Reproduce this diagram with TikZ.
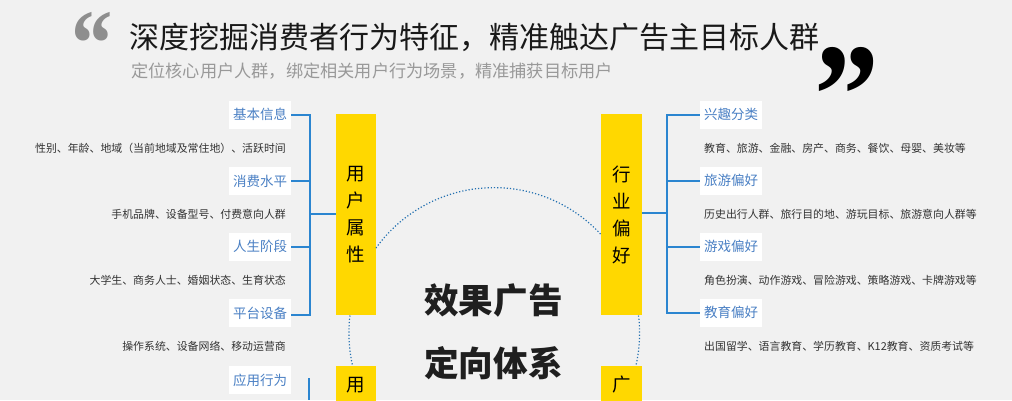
\documentclass[tikz,border=0pt]{standalone}
\usepackage{xcolor}
\usepackage{fontspec}
\usepackage{tikz}
\setmainfont{Liberation Serif}
\newfontfamily\cjk{Noto Sans CJK SC}
\definecolor{bgray}{HTML}{F1F1F1}
\definecolor{barYellow}{HTML}{FFD800}
\definecolor{lineBlue}{HTML}{2B85D0}
\definecolor{labelBlue}{HTML}{4A80C4}
\definecolor{detailGray}{HTML}{333333}
\definecolor{subGray}{HTML}{999999}
\definecolor{quoteGray}{HTML}{8E8E8E}
\tikzset{
  labelbox/.style={fill=white, text=labelBlue, font=\cjk\fontsize{13.5}{14}\selectfont, inner sep=0, minimum width=62, minimum height=28},
  detailtext/.style={text=detailGray, font=\cjk\fontsize{10.9}{12}\selectfont, inner sep=0},
  barbox/.style={fill=barYellow, text=black, font=\cjk\fontsize{18.5}{27}\selectfont, inner sep=0, minimum width=40.5, align=center},
  centertext/.style={text=black!88, font=\cjk\bfseries\fontsize{34.6}{36}\selectfont, inner sep=0},
  treeline/.style={lineBlue, line width=2},
  dotarc/.style={lineBlue!85!black, line width=1.2, dotted},
}

\begin{document}
\begin{tikzpicture}[x=1pt,y=-1pt]
\path[use as bounding box, clip] (0,0) rectangle (1012,400);
\fill[bgray] (0,0) rectangle (1012,400);

% heading
\node[text=black!90, font=\cjk\fontsize{30}{32}\selectfont, inner sep=0, anchor=west] (title) at (129,37) {深度挖掘消费者行为特征，精准触达广告主目标人群};
\node[text=subGray, font=\cjk\fontsize{17.2}{19}\selectfont, inner sep=0, anchor=west] (subtitle) at (131,71) {定位核心用户人群，绑定相关用户行为场景，精准捕获目标用户};
\node[text=quoteGray, font=\bfseries\fontsize{95}{95}\selectfont, inner sep=0, xscale=.87] (openquote) at (92,75.5) {\smash{“}};
\node[text=black, font=\bfseries\fontsize{146}{146}\selectfont, inner sep=0, xscale=.89] (closequote) at (846.5,144) {\smash{”}};

% bars
\node[barbox, minimum height=201] (yhsx) at (356,214.5) {用\\户\\属\\性};
\node[barbox, minimum height=201] (hyph) at (621.5,214.5) {行\\业\\偏\\好};
\node[barbox, minimum height=38] (yhbot) at (356,385) {用};
\node[barbox, minimum height=38] (ggbot) at (621.5,385) {广};

% center
\node[centertext] (xgtitle) at (493.5,301) {效果广告};
\node[centertext] (dxtitle) at (493.5,363) {定向体系};

% left labels
\node[labelbox] (jbxx) at (260,114.7) {基本信息};
\node[labelbox] (xfsp) at (260,181) {消费水平};
\node[labelbox] (rsjd) at (260,246.7) {人生阶段};
\node[labelbox] (ptsb) at (260,313) {平台设备};
\node[labelbox] (yyxw) at (260,380) {应用行为};
\node[detailtext, anchor=east] (jbxxtext) at (286,148) {性别、年龄、地域（当前地域及常住地）、活跃时间};
\node[detailtext, anchor=east] (xfsptext) at (286,214) {手机品牌、设备型号、付费意向人群};
\node[detailtext, anchor=east] (rsjdtext) at (286,280) {大学生、商务人士、婚姻状态、生育状态};
\node[detailtext, anchor=east] (ptsbtext) at (286,346) {操作系统、设备网络、移动运营商};

% right labels
\node[labelbox] (xqfl) at (731,114.5) {兴趣分类};
\node[labelbox] (lyph) at (731,180.5) {旅游偏好};
\node[labelbox] (yxph) at (731,246.5) {游戏偏好};
\node[labelbox] (jyph) at (731,312.7) {教育偏好};
\node[detailtext, anchor=west] (xqfltext) at (704,148) {教育、旅游、金融、房产、商务、餐饮、母婴、美妆等};
\node[detailtext, anchor=west] (lyphtext) at (704,214) {历史出行人群、旅行目的地、游玩目标、旅游意向人群等};
\node[detailtext, anchor=west] (yxphtext) at (704,280) {角色扮演、动作游戏、冒险游戏、策略游戏、卡牌游戏等};
\node[detailtext, anchor=west] (jyphtext) at (704,346) {出国留学、语言教育、学历教育、K12教育、资质考试等};

% left tree
\coordinate (ltrunk) at (309.5,214);
\coordinate (lbot) at (291,315);
\coordinate (lnext) at (309,378);
\coordinate (lnextend) at (309,400);
\draw[treeline] (jbxx.east) -| (lbot -| ltrunk) -- (lbot);
\draw[treeline] (xfsp.east) -- (xfsp.east -| ltrunk);
\draw[treeline] (rsjd.east) -- (rsjd.east -| ltrunk);
\draw[treeline] (yhsx.west |- ltrunk) -- (ltrunk);
\draw[treeline] (lnext) -- (lnextend);

% right tree
\coordinate (rtrunk) at (667.3,213);
\draw[treeline] (xqfl.west) -| (rtrunk |- jyph.west) -- (jyph.west);
\draw[treeline] (lyph.west) -- (lyph.west -| rtrunk);
\draw[treeline] (yxph.west) -- (yxph.west -| rtrunk);
\draw[treeline] (hyph.east |- rtrunk) -- (rtrunk);

% dotted arcs
\coordinate (arctop) at (376,248);
\coordinate (arcleft) at (350,315.5);
\coordinate (arcright) at (638.5,315.5);
\draw[dotarc] (arctop) arc[start angle=-144.2, end angle=-42.7, radius=145.5];
\draw[dotarc] (arcleft) arc[start angle=187, end angle=167, radius=145.5];
\draw[dotarc] (arcright) arc[start angle=-7, end angle=13, radius=145.5];
\end{tikzpicture}
\end{document}
